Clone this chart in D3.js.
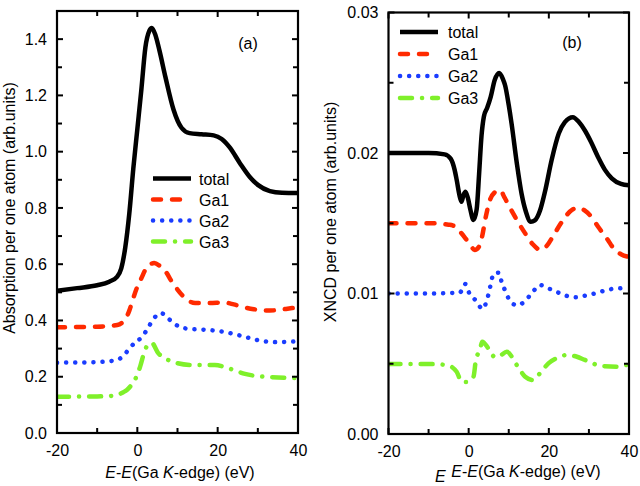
<!DOCTYPE html>
<html><head><meta charset="utf-8">
<script src="https://cdn.jsdelivr.net/npm/d3@7"></script>
<style>
body{margin:0;background:#fff;}
text{font-family:Arial,"Liberation Sans",sans-serif;}
</style></head>
<body><svg id="c" width="640" height="486"></svg>
<script>
// ---- Panel (a): absorption ----
const aTotalE = [-20,-15,-10,-7,-5,-4,-3,-2,-1,0,1,2,3,3.6,4.5,5.5,7,9,11,13,16,19,21,23,25.5,28,30,33,36,40];
const aTotalV = [0.506,0.515,0.525,0.538,0.556,0.585,0.66,0.78,0.94,1.08,1.22,1.37,1.43,1.44,1.415,1.36,1.265,1.15,1.085,1.066,1.062,1.058,1.045,1.015,0.96,0.91,0.882,0.86,0.854,0.853];
const aGa1E = [-20,-10,-5,-3,-2,-1,0,1,2,3,4.2,5.5,7,8.5,10,12,14.4,18,21.5,24,26,29,32,35,37,40];
const aGa1V = [0.376,0.378,0.384,0.405,0.435,0.48,0.52,0.55,0.58,0.598,0.604,0.595,0.575,0.54,0.51,0.478,0.462,0.462,0.464,0.457,0.449,0.44,0.435,0.437,0.441,0.447];
const aGa2E = [-20,-10,-5,-3,-2,-0.6,1.2,2.6,4,5.9,8.1,10.4,13,16.9,21.4,26,30.3,34.7,40];
const aGa2V = [0.25,0.252,0.26,0.282,0.3,0.321,0.342,0.372,0.405,0.426,0.402,0.378,0.37,0.367,0.36,0.345,0.329,0.323,0.326];
const aGa3E = [-20,-10,-5.6,-3.5,-2.6,-1.5,-0.6,0.7,1.9,3,3.6,5.2,7,8.6,13.5,19.3,22.7,26.8,31.8,40];
const aGa3V = [0.129,0.13,0.133,0.145,0.153,0.17,0.189,0.236,0.295,0.318,0.32,0.284,0.265,0.254,0.242,0.242,0.23,0.21,0.2,0.195];

// ---- Panel (b): XNCD ----
const bTotalE = [-20,-10,-6,-4.5,-3.5,-3,-2.3,-1.8,-1.3,-0.8,-0.2,0.4,1.2,2.0,2.6,3.2,3.8,4.6,5.5,6.5,7.6,8.5,9.1,10,10.7,12,13.2,14.3,15.5,16.5,17.8,19,20.7,22.5,24,26,27.5,29,30.5,32.3,34,35.7,38,40];
const bTotalV = [0.0200,0.0200,0.0199,0.0196,0.0188,0.0181,0.0170,0.01653,0.0170,0.01725,0.0168,0.0160,0.01523,0.0160,0.0185,0.0212,0.0226,0.0232,0.0240,0.0252,0.0257,0.0253,0.0248,0.0234,0.0221,0.0193,0.0171,0.0158,0.0151,0.0152,0.0159,0.0172,0.0195,0.0214,0.0222,0.02255,0.0222,0.0216,0.0208,0.0197,0.0188,0.0182,0.0178,0.0177];
const bGa1E = [-20,-10,-5,-4,-2.5,-1,0.3,1.5,2.5,3.3,4.3,5.3,6.5,7.8,9,10.7,12.5,14.1,16,18,19.5,21.5,23.5,25.7,27.5,29,30.5,32.3,34.5,36.5,38,40];
const bGa1V = [0.0150,0.0150,0.0149,0.01485,0.0145,0.0140,0.0135,0.0131,0.0133,0.0140,0.0155,0.01665,0.0172,0.01737,0.0168,0.0159,0.0150,0.01428,0.0135,0.0131,0.0134,0.0143,0.0152,0.01594,0.0161,0.0159,0.0155,0.01475,0.0139,0.0131,0.0128,0.0126];
const bGa2E = [-20,-10,-2.2,-0.9,0.1,1.8,3.5,4.5,5.1,5.6,6.2,7.6,8.2,9.1,10.1,12,14.1,15.9,17.8,20.1,22.4,24.6,26.8,29,31.3,33.6,35.7,37.9,40];
const bGa2V = [0.0100,0.0100,0.01006,0.01068,0.01006,0.00949,0.0089,0.00949,0.01013,0.01077,0.01141,0.01148,0.01084,0.0102,0.00958,0.00916,0.00947,0.01008,0.0106,0.01034,0.01006,0.00982,0.00973,0.00984,0.00999,0.01018,0.01032,0.01037,0.0104];
const bGa3E = [-20,-10,-5.5,-3,-1.7,-0.5,1.2,1.8,2.8,3.4,4.9,6.6,8,9.5,12,14.1,16.1,18,19.9,22,24.5,27,29,33.2,37.3,40];
const bGa3V = [0.00498,0.00498,0.00491,0.00443,0.0037,0.0037,0.00408,0.00527,0.00598,0.00657,0.0061,0.00546,0.0056,0.00586,0.00491,0.00408,0.00384,0.0044,0.00503,0.0054,0.00562,0.0055,0.00527,0.00484,0.00479,0.00498];

const seriesNames = ["total","Ga1","Ga2","Ga3"];
const xTicks = [-20,0,20,40];
const aYTicks = [0.0,0.2,0.4,0.6,0.8,1.0,1.2,1.4];
const bYTicks = [0.00,0.01,0.02,0.03];

const styles = {
  total:{color:"#000000", dash:null, width:4.5},
  Ga1:{color:"#ff2a00", dash:"8,11", width:4.5},
  Ga2:{color:"#1a3cff", dash:"0.1,9", width:4.5},
  Ga3:{color:"#7ff02a", dash:"12,10,0.1,10", width:4.5}
};

const svg = d3.select("#c");

function zip(E,V){ return E.map((e,i)=>({x:e,y:V[i]})); }

function panel(opts){
  const {x0,x1,y0,y1,yDomain,yTicks,yMinor,yFmt,series,legend,tag,tagPos,id} = opts;
  const x = d3.scaleLinear().domain([-20,40]).range([x0,x1]);
  const y = d3.scaleLinear().domain(yDomain).range([y1,y0]);
  const g = svg.append("g");
  g.append("clipPath").attr("id",id).append("rect")
    .attr("x",x0).attr("y",y0).attr("width",x1-x0).attr("height",y1-y0);
  const line = d3.line().x(d=>x(d.x)).y(d=>y(d.y)).curve(d3.curveMonotoneX);
  const lg = g.append("g").attr("clip-path",`url(#${id})`);
  seriesNames.slice().reverse().forEach(n=>{
    const s = styles[n];
    lg.append("path").datum(series[n]).attr("d",line)
      .attr("fill","none").attr("stroke",s.color).attr("stroke-width",s.width)
      .attr("stroke-linecap", s.dash? "round":"butt")
      .attr("stroke-linejoin","round")
      .attr("stroke-dasharray",s.dash);
  });
  const xMinor = d3.range(-20,41,10);
  const ax = g.append("g");
  const bottom = d3.axisBottom(x).tickValues(xTicks).tickSize(0).tickPadding(12).tickFormat(d=>String(d));
  const bg = g.append("g").attr("transform",`translate(0,${y1})`).call(bottom);
  bg.select(".domain").remove();
  bg.selectAll("text").attr("font-size",16).attr("font-family","Arial, Liberation Sans, sans-serif").attr("fill","#000").attr("dy","0.71em");
  const left = d3.axisLeft(y).tickValues(yTicks).tickSize(0).tickPadding(10).tickFormat(yFmt);
  const lgx = g.append("g").attr("transform",`translate(${x0},0)`).call(left);
  lgx.select(".domain").remove();
  lgx.selectAll("text").attr("font-size",16).attr("font-family","Arial, Liberation Sans, sans-serif").attr("fill","#000");
  xMinor.forEach(v=>{
    const major = xTicks.includes(v);
    const L = major?6:5;
    ax.append("line").attr("x1",x(v)).attr("x2",x(v)).attr("y1",y1).attr("y2",y1-L).attr("stroke","#000").attr("stroke-width",2);
    ax.append("line").attr("x1",x(v)).attr("x2",x(v)).attr("y1",y0).attr("y2",y0+L).attr("stroke","#000").attr("stroke-width",2);
  });
  yMinor.forEach(v=>{
    const major = yTicks.some(t=>Math.abs(t-v)<1e-9);
    const L = major?6:5;
    ax.append("line").attr("x1",x0).attr("x2",x0+L).attr("y1",y(v)).attr("y2",y(v)).attr("stroke","#000").attr("stroke-width",2);
    ax.append("line").attr("x1",x1).attr("x2",x1-L).attr("y1",y(v)).attr("y2",y(v)).attr("stroke","#000").attr("stroke-width",2);
  });
  g.append("rect").attr("x",x0).attr("y",y0).attr("width",x1-x0).attr("height",y1-y0)
    .attr("fill","none").attr("stroke","#000").attr("stroke-width",2.2);
  seriesNames.forEach((n,i)=>{
    const s = styles[n];
    const yy = legend.ys[i];
    g.append("line").attr("x1",legend.lx0).attr("x2",legend.lx1).attr("y1",yy).attr("y2",yy)
      .attr("stroke",s.color).attr("stroke-width",s.width)
      .attr("stroke-linecap", s.dash? "round":"butt").attr("stroke-dasharray",s.dash);
    g.append("text").attr("x",legend.tx).attr("y",yy+6).attr("font-size",16).text(n);
  });
  g.append("text").attr("x",tagPos[0]).attr("y",tagPos[1]).attr("font-size",16).attr("text-anchor","middle").text(tag);
  return {x,y};
}

panel({id:"ca",x0:57,x1:298,y0:11,y1:433,yDomain:[0,1.5],yTicks:aYTicks,
  yMinor:d3.range(0,15).map(i=>i/10), yFmt:d3.format(".1f"),
  series:{total:zip(aTotalE,aTotalV),Ga1:zip(aGa1E,aGa1V),Ga2:zip(aGa2E,aGa2V),Ga3:zip(aGa3E,aGa3V)},
  legend:{lx0:153,lx1:191,tx:199,ys:[178.5,199.5,220.5,241.5]},
  tag:"(a)",tagPos:[248,49]});

panel({id:"cb",x0:388.5,x1:629,y0:12.5,y1:434,yDomain:[0,0.03],yTicks:bYTicks,
  yMinor:d3.range(0,7).map(i=>i*0.005), yFmt:d3.format(".2f"),
  series:{total:zip(bTotalE,bTotalV),Ga1:zip(bGa1E,bGa1V),Ga2:zip(bGa2E,bGa2V),Ga3:zip(bGa3E,bGa3V)},
  legend:{lx0:400,lx1:438,tx:448,ys:[32,54,76,98]},
  tag:"(b)",tagPos:[572,48]});

function xTitle(cx,cy){
  const t = svg.append("text").attr("x",cx).attr("y",cy).attr("font-size",16).attr("text-anchor","middle");
  t.append("tspan").attr("font-style","italic").text("E");
  t.append("tspan").text("-");
  t.append("tspan").attr("font-style","italic").text("E");
  t.append("tspan").text("(Ga ");
  t.append("tspan").attr("font-style","italic").text("K");
  t.append("tspan").text("-edge) (eV)");
}
xTitle(180,478);
xTitle(526,477);
svg.append("text").attr("x",435).attr("y",482).attr("font-size",16).attr("font-style","italic").text("E");

svg.append("text").attr("transform","translate(15,208) rotate(-90)").attr("font-size",16)
  .attr("text-anchor","middle").text("Absorption per one atom (arb.units)");
svg.append("text").attr("transform","translate(336,212) rotate(-90)").attr("font-size",16)
  .attr("text-anchor","middle").text("XNCD per one atom (arb.units)");
</script></body></html>
